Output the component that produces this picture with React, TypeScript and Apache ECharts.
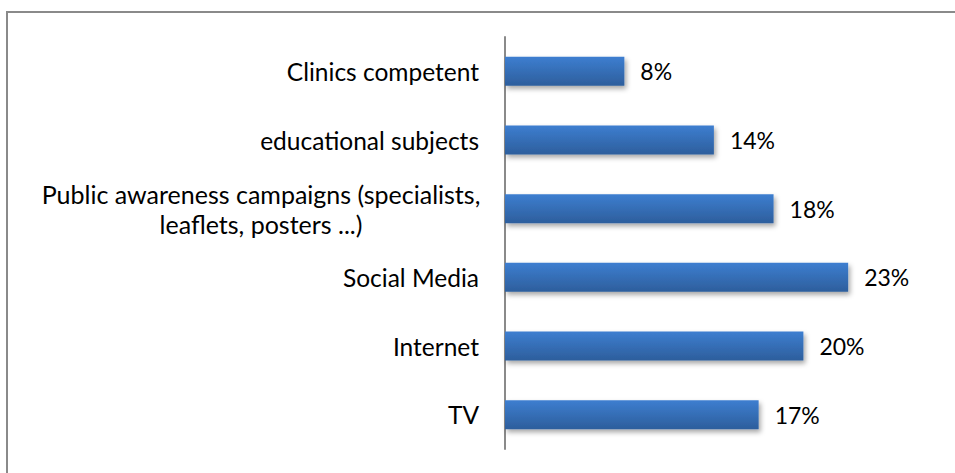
import React, { useEffect, useRef } from "react";
import * as echarts from "echarts";

const categories = [
  "TV",
  "Internet",
  "Social Media",
  "Public awareness campaigns (specialists,\nleaflets, posters ...)",
  "educational subjects",
  "Clinics competent",
];
const values = [17, 20, 23, 18, 14, 8];

export default function App() {
  const ref = useRef<HTMLDivElement>(null);
  useEffect(() => {
    const chart = echarts.init(ref.current!, null, { renderer: "svg" });
    chart.setOption({
      animation: false,
      backgroundColor: "#ffffff",
      textStyle: { fontFamily: "Lato" },
      graphic: [
        {
          type: "rect",
          shape: { x: 7, y: 12, width: 980, height: 500 },
          style: { fill: "none", stroke: "#8a8a8a", lineWidth: 2 },
          silent: true,
        },
      ],
      grid: { left: 505, top: 37, height: 412, width: 373 },
      xAxis: {
        type: "value",
        min: 0,
        max: 25,
        show: false,
      },
      yAxis: {
        type: "category",
        data: categories,
        axisLine: { show: true, lineStyle: { color: "#8a8a8a", width: 2 } },
        axisTick: { show: false },
        axisLabel: {
          color: "#000",
          fontSize: 24.5,
          fontFamily: "Lato",
          margin: 26,
          lineHeight: 30,
          align: "right",
          formatter: (v: string) =>
            v.indexOf("\n") >= 0
              ? v
                  .split("\n")
                  .map((s) => "{c|" + s + "}")
                  .join("\n")
              : v,
          rich: {
            c: {
              width: 436,
              align: "center",
              fontSize: 25,
              fontFamily: "Lato",
              lineHeight: 30,
              color: "#000",
            },
          },
        },
      },
      series: [
        {
          type: "bar",
          data: values,
          barWidth: 29,
          itemStyle: {
            color: new echarts.graphic.LinearGradient(0, 0, 0, 1, [
              { offset: 0, color: "#3d7ed0" },
              { offset: 1, color: "#2d5e9c" },
            ]),
            shadowColor: "rgba(0,0,0,0.35)",
            shadowBlur: 5,
            shadowOffsetX: 2,
            shadowOffsetY: 3,
          },
          label: {
            show: true,
            position: "right",
            distance: 16,
            formatter: "{c}%",
            color: "#000",
            fontSize: 23,
            fontFamily: "Lato",
          },
        },
      ],
    });
    return () => chart.dispose();
  }, []);
  return (
    <div
      ref={ref}
      style={{ position: "absolute", left: 0, top: 0, width: 955, height: 473 }}
    />
  );
}
